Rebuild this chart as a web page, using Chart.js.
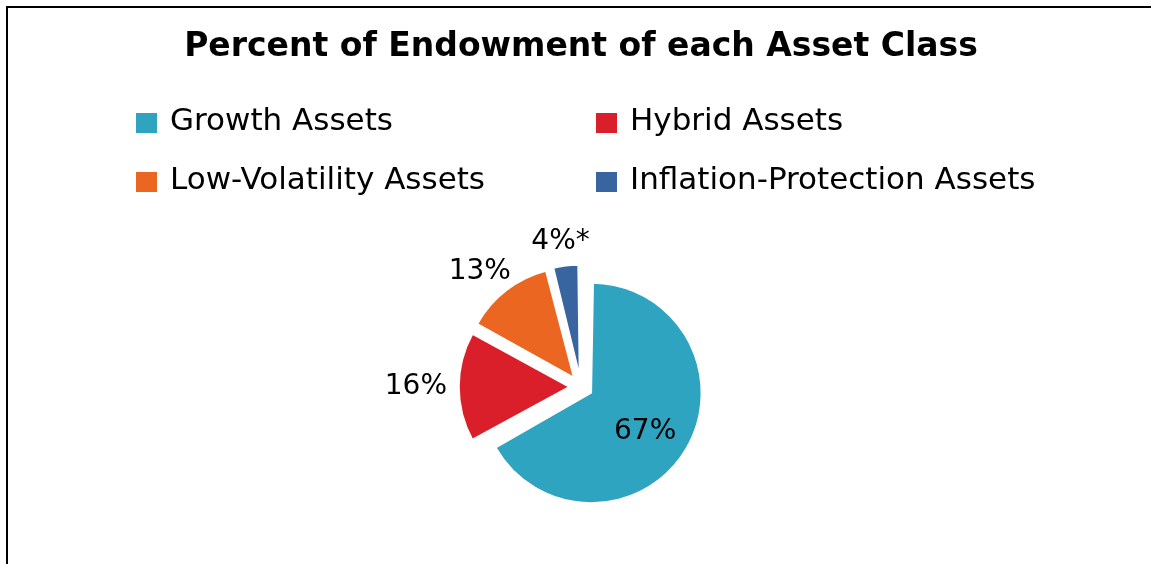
<!DOCTYPE html>
<html>
<head>
<meta charset="utf-8">
<title>Percent of Endowment of each Asset Class</title>
<script src="https://cdn.jsdelivr.net/npm/chart.js@4.4.1/dist/chart.umd.min.js"></script>
<style>
  html, body { margin: 0; padding: 0; background: #fff; }
  #wrap { position: relative; width: 1151px; height: 564px; }
</style>
</head>
<body>
<div id="wrap"><canvas id="pie" width="1151" height="564"></canvas></div>
<script>
// Data
const categories = ['Growth Assets', 'Hybrid Assets', 'Low-Volatility Assets', 'Inflation-Protection Assets'];
const shares = [67, 16, 13, 4];
const sliceLabels = ['67%', '16%', '13%', '4%*'];
const sliceColors = ['#2ea4c0', '#da1f2b', '#eb6621', '#38649f'];

const FONT = '"DejaVu Sans", sans-serif';
const PIE_R = 110;     // drawn radius of every slice
const EXPLODE = 12;    // how far each slice is pulled out

// Chart.js grows the radius of an offset arc; undo that so all slices keep PIE_R
const keepRadius = {
  id: 'keepRadius',
  beforeDatasetsDraw(chart) {
    chart.getDatasetMeta(0).data.forEach(arc => {
      const t = (arc.options.offset || 0) / 4;
      const fix = 1 - Math.sin(Math.min(Math.PI, arc.circumference || 0));
      arc.outerRadius = PIE_R - t * fix;
    });
  }
};

// Frame lines (top and left) like the original picture
const frame = {
  id: 'frame',
  afterDraw(chart) {
    const ctx = chart.ctx;
    ctx.save();
    ctx.strokeStyle = '#000';
    ctx.lineWidth = 2;
    ctx.beginPath();
    ctx.moveTo(7, chart.height);
    ctx.lineTo(7, 7);
    ctx.lineTo(chart.width, 7);
    ctx.stroke();
    ctx.restore();
  }
};

// Two-column legend
const gridLegend = {
  id: 'gridLegend',
  afterDraw(chart) {
    const ctx = chart.ctx;
    const items = Chart.overrides.pie.plugins.legend.labels.generateLabels(chart);
    const colX = [136, 596];
    const rowBase = [130, 189];
    ctx.save();
    ctx.font = '31px ' + FONT;
    ctx.textBaseline = 'alphabetic';
    ctx.textAlign = 'left';
    items.forEach((item, i) => {
      const x = colX[i % 2];
      const y = rowBase[Math.floor(i / 2)];
      ctx.fillStyle = item.fillStyle;
      ctx.fillRect(x, y - 17, 21, 20);
      ctx.fillStyle = '#000';
      ctx.fillText(item.text, x + 34, y);
    });
    ctx.restore();
  }
};

// Percent labels: the big slice inside, the others just outside their edge
const sliceText = {
  id: 'sliceText',
  afterDatasetsDraw(chart) {
    const ctx = chart.ctx;
    const meta = chart.getDatasetMeta(0);
    ctx.save();
    ctx.font = '28px ' + FONT;
    ctx.fillStyle = '#000';
    ctx.textAlign = 'center';
    ctx.textBaseline = 'middle';
    meta.data.forEach((arc, i) => {
      const mid = (arc.startAngle + arc.endAngle) / 2;
      const dx = Math.cos(mid), dy = Math.sin(mid);
      const text = sliceLabels[i];
      let x, y;
      if (i === 0) {
        const d = EXPLODE + PIE_R * 0.6;
        x = arc.x + dx * d - 3;
        y = arc.y + dy * d + 5;
      } else {
        const d = PIE_R + EXPLODE + 12;
        const w = ctx.measureText(text).width;
        x = arc.x + dx * d + dx * w / 2;
        y = arc.y + dy * d + dy * 12;
      }
      ctx.fillText(text, x, y);
    });
    ctx.restore();
  }
};

new Chart(document.getElementById('pie'), {
  type: 'pie',
  data: {
    labels: categories,
    datasets: [{
      data: shares,
      backgroundColor: sliceColors,
      borderColor: '#ffffff',
      borderWidth: 1.5,
      offset: EXPLODE * 4
    }]
  },
  options: {
    responsive: false,
    animation: false,
    events: [],
    layout: { padding: { left: 11, right: 0, top: 0, bottom: 60 } },
    plugins: {
      legend: { display: false },
      tooltip: { enabled: false },
      title: {
        display: true,
        text: 'Percent of Endowment of each Asset Class',
        color: '#000',
        font: { family: FONT, size: 33, weight: 'bold' },
        padding: { top: 28, bottom: 202 }
      }
    }
  },
  plugins: [keepRadius, sliceText, gridLegend, frame]
});
</script>
</body>
</html>
